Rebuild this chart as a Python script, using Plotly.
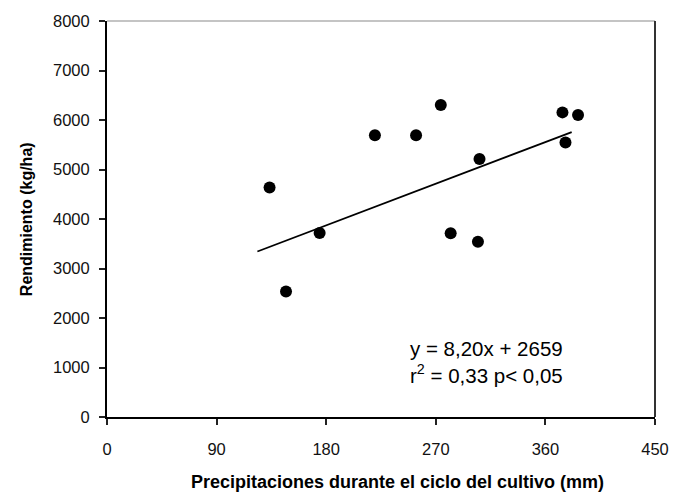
import plotly.graph_objects as go

# Data
precip_mm = [133.5, 147.0, 174.6, 220.0, 253.8, 274.1, 282.2, 305.9, 304.6, 374.0, 376.5, 386.8]
rendimiento = [4635, 2537, 3718, 5690, 5690, 6301, 3712, 5212, 3539, 6154, 5545, 6102]

fit_x = [123.5, 381.6]
fit_y = [3344, 5756]

x_ticks = [0, 90, 180, 270, 360, 450]
y_ticks = [0, 1000, 2000, 3000, 4000, 5000, 6000, 7000, 8000]

eq_text = "y = 8,20x + 2659<br>r<sup>2</sup> = 0,33 p< 0,05"
x_title = "<b>Precipitaciones durante el ciclo del cultivo (mm)</b>"
y_title = "<b>Rendimiento (kg/ha)</b>"

FONT = "Liberation Sans, Arial, sans-serif"

fig = go.Figure()
fig.add_trace(go.Scatter(x=fit_x, y=fit_y, mode="lines",
                         line=dict(color="black", width=1.8), showlegend=False, hoverinfo="skip"))
fig.add_trace(go.Scatter(x=precip_mm, y=rendimiento, mode="markers",
                         marker=dict(color="black", size=12), showlegend=False))

axis_common = dict(showline=True, linecolor="black", linewidth=2, ticks="outside",
                   ticklen=6, tickwidth=1.5, tickcolor="#222", showgrid=False, zeroline=False,
                   tickfont=dict(family=FONT, size=16.5, color="#111"))

fig.update_xaxes(range=[0, 450], tickvals=x_ticks, ticktext=[str(v) for v in x_ticks],
                 ticklabelstandoff=10, **axis_common)
fig.update_yaxes(range=[0, 8000], tickvals=y_ticks, ticktext=[str(v) for v in y_ticks],
                 ticklabelstandoff=6, **axis_common)

# Top and right frame lines
fig.add_shape(type="line", xref="paper", yref="paper", x0=0, x1=1, y0=1, y1=1,
              line=dict(color="#8a8a8a", width=1.2))
fig.add_shape(type="line", xref="paper", yref="paper", x0=1, x1=1, y0=0, y1=1,
              line=dict(color="#333333", width=2))

fig.add_annotation(x=246.8, y=1105, xref="x", yref="y", text=eq_text, showarrow=False,
                   xanchor="left", yanchor="middle", align="left",
                   font=dict(family=FONT, size=20.5, color="black"))

fig.add_annotation(x=0.5306, y=-0.164, xref="paper", yref="paper", text=x_title, showarrow=False,
                   xanchor="center", yanchor="middle", font=dict(family=FONT, size=18, color="black"))
fig.add_annotation(x=-0.1475, y=0.5, xref="paper", yref="paper", text=y_title, showarrow=False,
                   textangle=-90, xanchor="center", yanchor="middle",
                   font=dict(family=FONT, size=16, color="black"))

fig.update_layout(width=681, height=503, margin=dict(l=107, r=18, t=15, b=86, pad=0),
                  paper_bgcolor="white", plot_bgcolor="white", font=dict(family=FONT))

fig.write_html("out.html")
